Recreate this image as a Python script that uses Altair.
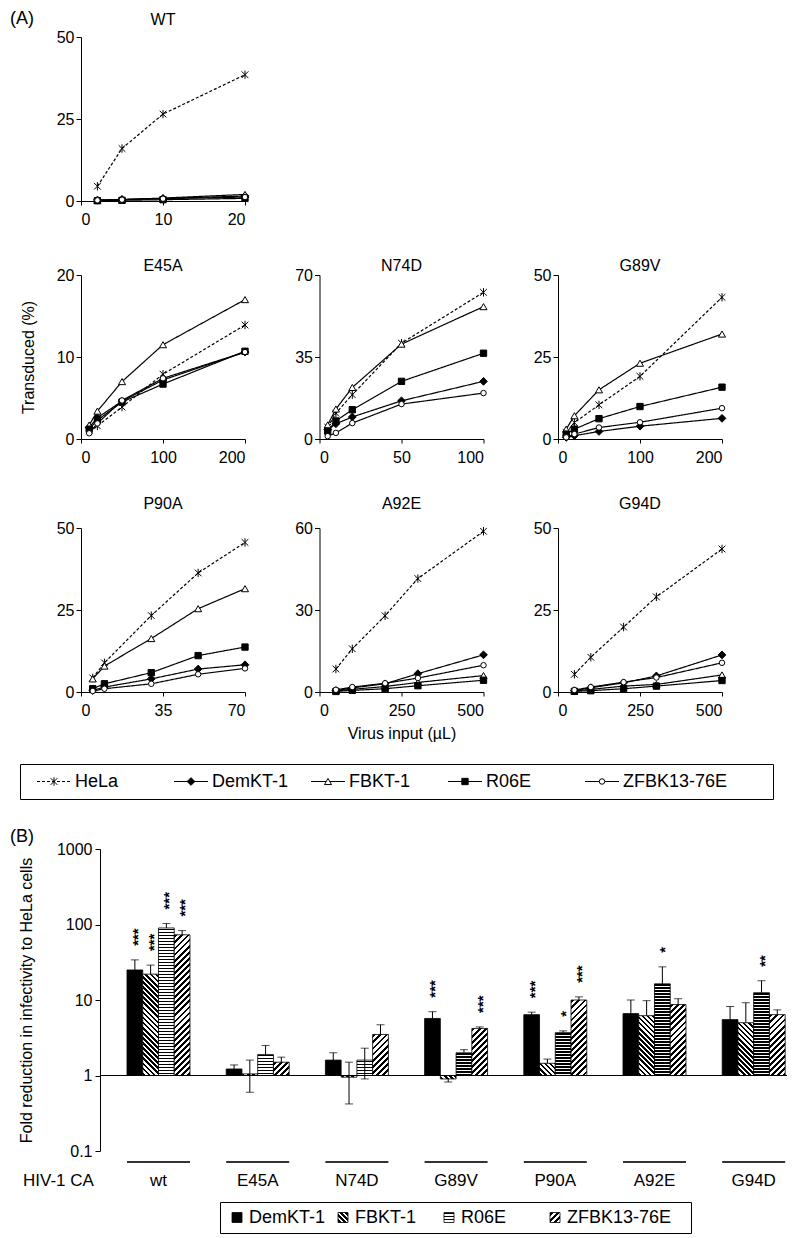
import math
import altair as alt
import pandas as pd

FONT = "Liberation Sans"

# ---------------- Panel A data ----------------
series = ["HeLa", "DemKT-1", "FBKT-1", "R06E", "ZFBK13-76E"]

WT = {"x": [2, 5, 10, 20],
      "HeLa": [4.5, 16.0, 26.5, 38.5], "DemKT-1": [0.3, 0.5, 0.8, 1.5],
      "FBKT-1": [0.2, 0.4, 0.9, 2.0], "R06E": [0.1, 0.2, 0.4, 0.8],
      "ZFBK13-76E": [0.2, 0.4, 0.7, 1.2]}
E45A = {"x": [10, 20, 50, 100, 200],
        "HeLa": [1.0, 1.6, 3.9, 7.9, 13.9], "DemKT-1": [1.4, 2.6, 4.6, 7.2, 10.6],
        "FBKT-1": [1.7, 3.4, 7.0, 11.5, 17.0], "R06E": [1.2, 2.3, 4.5, 6.7, 10.7],
        "ZFBK13-76E": [0.7, 1.9, 4.7, 7.4, 10.6]}
N74D = {"x": [5, 10, 20, 50, 100],
        "HeLa": [5.0, 11.0, 18.9, 40.9, 62.6], "DemKT-1": [4.0, 6.5, 9.4, 16.3, 24.6],
        "FBKT-1": [6.0, 12.8, 22.0, 40.5, 56.5], "R06E": [3.4, 7.7, 12.5, 24.6, 36.6],
        "ZFBK13-76E": [1.2, 2.6, 6.8, 14.9, 19.6]}
G89V = {"x": [10, 20, 50, 100, 200],
        "HeLa": [2.0, 5.0, 10.4, 19.1, 43.2], "DemKT-1": [0.5, 1.0, 2.3, 3.9, 6.3],
        "FBKT-1": [3.0, 7.1, 15.0, 23.1, 32.0], "R06E": [1.5, 3.0, 6.2, 9.9, 15.8],
        "ZFBK13-76E": [0.5, 1.5, 3.5, 5.1, 9.4]}
P90A = {"x": [5, 10, 30, 50, 70],
        "HeLa": [4.3, 8.9, 23.3, 36.3, 45.6], "DemKT-1": [0.5, 1.5, 4.0, 7.0, 8.3],
        "FBKT-1": [4.0, 7.9, 16.3, 25.4, 31.5], "R06E": [1.0, 2.5, 5.9, 11.1, 13.7],
        "ZFBK13-76E": [0.3, 1.0, 2.5, 5.4, 7.2]}
A92E = {"x": [50, 100, 200, 300, 500],
        "HeLa": [8.4, 15.8, 27.9, 41.5, 58.8], "DemKT-1": [0.5, 1.5, 3.0, 6.7, 13.6],
        "FBKT-1": [0.4, 1.0, 2.0, 3.5, 6.0], "R06E": [0.2, 0.6, 1.2, 2.3, 4.3],
        "ZFBK13-76E": [0.8, 1.8, 3.2, 5.1, 9.8]}
G94D = {"x": [50, 100, 200, 300, 500],
        "HeLa": [5.4, 10.6, 19.8, 29.0, 43.6], "DemKT-1": [0.4, 1.3, 2.8, 4.9, 11.3],
        "FBKT-1": [0.3, 0.8, 1.8, 2.3, 5.2], "R06E": [0.2, 0.4, 1.0, 1.8, 3.5],
        "ZFBK13-76E": [0.6, 1.5, 3.0, 4.4, 8.9]}

# ---------------- Panel B data ----------------
cats = ["wt", "E45A", "N74D", "G89V", "P90A", "A92E", "G94D"]
bar_series = ["DemKT-1", "FBKT-1", "R06E", "ZFBK13-76E"]
fold_demkt = [25, 1.22, 1.6, 5.7, 6.4, 6.6, 5.5]
fold_fbkt = [22, 1.05, 0.95, 0.9, 1.45, 6.2, 5.0]
fold_r06e = [90, 1.9, 1.6, 2.0, 3.7, 16.4, 12.5]
fold_zfbk = [73, 1.5, 3.5, 4.2, 10.0, 8.7, 6.4]
hi_demkt = [34, 1.38, 2.0, 7.0, 6.9, 10.0, 8.2]
hi_fbkt = [29, 1.6, 1.5, 0.9, 1.65, 9.8, 9.2]
hi_r06e = [103, 2.5, 2.3, 2.2, 3.9, 27.5, 18.0]
hi_zfbk = [83, 1.75, 4.7, 4.4, 11.0, 10.4, 7.4]
lo_demkt = [25, 1.22, 1.6, 5.7, 6.4, 6.6, 5.5]
lo_fbkt = [22, 0.6, 0.42, 0.82, 1.45, 6.2, 5.0]
lo_r06e = [90, 1.9, 0.9, 2.0, 3.7, 16.4, 12.5]
lo_zfbk = [73, 1.5, 3.5, 4.2, 10.0, 8.7, 6.4]
star_demkt = ["***", "", "", "***", "***", "", ""]
star_fbkt = ["***", "", "", "", "", "", ""]
star_r06e = ["***", "", "", "", "*", "*", "**"]
star_zfbk = ["***", "", "", "***", "***", "", ""]

# ---------------- styles ----------------
STAR = "M-0.8,-0.8L0.8,0.8M-0.8,0.8L0.8,-0.8M0,-1L0,1"
pt_shapes = [STAR, "diamond", "triangle-up", "square", "circle"]
pt_fills = ["transparent", "black", "white", "black", "white"]
pt_sizes = [70, 30, 60, 30, 45]
leg_sizes = [55, 25, 50, 28, 40]
dashes = [[3, 2], [1, 0], [1, 0], [1, 0], [1, 0]]
LBL = "'' + datum.value"

PW, PH = 164, 164
one = pd.DataFrame({"k": [0]})


def label(text, x, y, size=18, align="left"):
    return alt.Chart(one).mark_text(text=text, align=align, baseline="middle",
                                    fontSize=size, font=FONT, color="black").encode(
        x=alt.value(x), y=alt.value(y))


def spacer(w):
    return alt.Chart(one).mark_point(size=0, opacity=0).encode(
        x=alt.value(0), y=alt.value(0)).properties(width=w, height=1)


def axis_y(vals, title=None, **kw):
    return alt.Axis(values=vals, tickSize=5, labelPadding=2, labelFontSize=16,
                    labelExpr=LBL, grid=False, title=title, titleFontSize=16,
                    titleFontWeight="normal", **kw)


def axis_x(vals, title=None, **kw):
    return alt.Axis(values=vals, tickSize=4, labelPadding=6, labelFontSize=16,
                    labelExpr=LBL, grid=False, title=title, titleFontSize=16,
                    titleFontWeight="normal", labelAngle=0, **kw)


def line_panel(name, d, xmax, ymax, ty, ytitle=None, ytitle_kw=None,
               xtitle=None, xtitle_kw=None, extra=()):
    rows = [{"series": s, "x": xv, "y": yv}
            for s in series for xv, yv in zip(d["x"], d[s])]
    df = pd.DataFrame(rows)
    xenc = alt.X("x:Q", scale=alt.Scale(domain=[0, xmax], nice=False, zero=True),
                 axis=axis_x([0, xmax / 2, xmax], xtitle, **(xtitle_kw or {})))
    yenc = alt.Y("y:Q", scale=alt.Scale(domain=[0, ymax], nice=False, zero=True),
                 axis=axis_y([0, ymax / 2, ymax], ytitle, **(ytitle_kw or {})))
    lines = alt.Chart(df).mark_line(color="black", strokeWidth=1.2).encode(
        x=xenc, y=yenc, detail="series:N",
        strokeDash=alt.StrokeDash("series:N", scale=alt.Scale(domain=series, range=dashes),
                                  legend=None))
    pts = alt.Chart(df).mark_point(opacity=1, stroke="black", strokeWidth=1).encode(
        x=xenc, y=yenc,
        shape=alt.Shape("series:N", scale=alt.Scale(domain=series, range=pt_shapes), legend=None),
        fill=alt.Fill("series:N", scale=alt.Scale(domain=series, range=pt_fills), legend=None),
        size=alt.Size("series:N", scale=alt.Scale(domain=series, range=pt_sizes), legend=None))
    title = label(name, PW / 2, ty, size=16, align="center")
    return alt.layer(lines, pts, title, *extra).properties(width=PW, height=PH)


wt = line_panel("WT", WT, 20, 50, -17, extra=[label("(A)", -71, -18)])
e45a = line_panel("E45A", E45A, 200, 20, -9, ytitle="Transduced (%)",
                  ytitle_kw={"titlePadding": 20})
n74d = line_panel("N74D", N74D, 100, 70, -9)
g89v = line_panel("G89V", G89V, 200, 50, -9)
p90a = line_panel("P90A", P90A, 70, 50, -24)
a92e = line_panel("A92E", A92E, 500, 60, -24, xtitle="Virus input (µL)",
                  xtitle_kw={"titlePadding": 7})
g94d = line_panel("G94D", G94D, 500, 50, -24)

rowWT = alt.hconcat(spacer(61), wt, spacing=0, bounds="flush")
row2 = alt.hconcat(spacer(61), alt.hconcat(e45a, n74d, g89v, spacing=74.5, bounds="flush"),
                   spacing=0, bounds="flush")
row3 = alt.hconcat(spacer(61), alt.hconcat(p90a, a92e, g94d, spacing=74.5, bounds="flush"),
                   spacing=0, bounds="flush")

# ---------------- Legend A ----------------
dfLA = pd.DataFrame({"series": series})
xLA = alt.X("series:N", sort=series,
            scale=alt.Scale(type="point", domain=series, range=[34, 582], padding=0), axis=None)
la_line = alt.Chart(dfLA).mark_rule(color="black", strokeWidth=1, xOffset=-17, x2Offset=17).encode(
    x=xLA, x2=alt.X2("series:N"), y=alt.value(17.5),
    strokeDash=alt.StrokeDash("series:N", scale=alt.Scale(domain=series, range=dashes),
                              legend=None))
la_pts = alt.Chart(dfLA).mark_point(opacity=1, stroke="black", strokeWidth=1).encode(
    x=xLA, y=alt.value(17.5),
    shape=alt.Shape("series:N", scale=alt.Scale(domain=series, range=pt_shapes), legend=None),
    fill=alt.Fill("series:N", scale=alt.Scale(domain=series, range=pt_fills), legend=None),
    size=alt.Size("series:N", scale=alt.Scale(domain=series, range=leg_sizes), legend=None))
la_txt = alt.Chart(dfLA).mark_text(align="left", baseline="middle", dx=21, fontSize=18,
                                   font=FONT, color="black").encode(
    x=xLA, y=alt.value(17.5), text="series:N")
legendA = alt.layer(la_line, la_pts, la_txt).properties(
    width=753, height=35, view=alt.ViewBackground(stroke="black", strokeWidth=1))

# ---------------- Panel B ----------------
W, H = 706, 302
DPX = H / 4.0
BW = 63.0 / 4.0


def hatch(kind, w, h, period, thick):
    w = max(w, 0.5)
    h = max(h, 0.5)
    if kind == "h":
        x1, y1, x2, y2 = 0, 0, 0, 1
        L = h
    else:
        s = (w + h) / (w * w + h * h)
        if kind == "/":
            x1, y1, x2, y2 = 0, 0, s * w, s * h
        else:
            x1, y1, x2, y2 = 0, 1, s * w, 1 - s * h
        L = (w + h) / math.sqrt(2)
    stops = [{"offset": 0, "color": "white"}]
    k = 0
    while True:
        a = (0.6 + k * period) / L
        if a >= 1:
            break
        b = min((0.6 + k * period + thick) / L, 1.0)
        stops += [{"offset": round(a, 4), "color": "white"},
                  {"offset": round(a, 4), "color": "black"},
                  {"offset": round(b, 4), "color": "black"},
                  {"offset": round(b, 4), "color": "white"}]
        k += 1
    return {"gradient": "linear", "x1": round(x1, 4), "y1": round(y1, 4),
            "x2": round(x2, 4), "y2": round(y2, 4), "stops": stops}


patterns = {"FBKT-1": ("\\", 3.6, 1.9), "R06E": ("h", 3.0, 1.4), "ZFBK13-76E": ("/", 4.3, 2.0)}

folds = {"DemKT-1": fold_demkt, "FBKT-1": fold_fbkt, "R06E": fold_r06e, "ZFBK13-76E": fold_zfbk}
his = {"DemKT-1": hi_demkt, "FBKT-1": hi_fbkt, "R06E": hi_r06e, "ZFBK13-76E": hi_zfbk}
los = {"DemKT-1": lo_demkt, "FBKT-1": lo_fbkt, "R06E": lo_r06e, "ZFBK13-76E": lo_zfbk}
stars = {"DemKT-1": star_demkt, "FBKT-1": star_fbkt, "R06E": star_r06e, "ZFBK13-76E": star_zfbk}

rowsB = []
for s in bar_series:
    for i, c in enumerate(cats):
        rowsB.append({"cat": c, "series": s, "fold": folds[s][i], "lo": los[s][i],
                      "hi": his[s][i], "star": stars[s][i]})
dfB = pd.DataFrame(rowsB)

conds = []
for s, (kind, per, th) in patterns.items():
    for i, c in enumerate(cats):
        h = abs(math.log10(folds[s][i])) * DPX
        conds.append({"test": f"datum.cat === '{c}' && datum.series === '{s}'",
                      "value": hatch(kind, BW, h, per, th)})
fill_bars = alt.FillValue(value="black", condition=conds)

xB = alt.X("cat:N", sort=cats,
           scale=alt.Scale(domain=cats, paddingInner=0.365, paddingOuter=0.241, align=0.962),
           axis=alt.Axis(title=None, domain=False, ticks=False, tickSize=0, labelPadding=21,
                         labelFontSize=17, labelAngle=0, grid=False))
xoB = alt.XOffset("series:N", sort=bar_series,
                  scale=alt.Scale(domain=bar_series, paddingInner=0, paddingOuter=0))
yscaleB = alt.Scale(type="log", domain=[0.1, 1000], nice=False)
axB = alt.Axis(values=[0.1, 1, 10, 100, 1000], labelExpr=LBL, offset=-19, tickSize=5,
               labelPadding=3, labelFontSize=16, grid=False,
               title="Fold reduction in infectivity to HeLa cells",
               titleFontSize=16, titlePadding=22, titleFontWeight="normal")

bars = alt.Chart(dfB).mark_bar(stroke="black", strokeWidth=0.8).encode(
    x=xB, xOffset=xoB, y=alt.Y("fold:Q", scale=yscaleB, axis=axB), y2=alt.datum(1),
    fill=fill_bars)
base_rule = alt.Chart(one).mark_rule(color="black", strokeWidth=1.2).encode(
    y=alt.datum(1), x=alt.value(19), x2=alt.value(W))
err = alt.Chart(dfB).mark_rule(color="black", strokeWidth=1).encode(
    x=xB, xOffset=xoB, y=alt.Y("lo:Q", scale=yscaleB, axis=axB), y2="hi:Q")
cap_hi = alt.Chart(dfB).transform_filter("datum.hi > datum.fold * 1.001").mark_tick(
    color="black", thickness=1, size=8, orient="horizontal").encode(
    x=xB, xOffset=xoB, y=alt.Y("hi:Q", scale=yscaleB, axis=axB))
cap_lo = alt.Chart(dfB).transform_filter("datum.lo < datum.fold / 1.001").mark_tick(
    color="black", thickness=1, size=8, orient="horizontal").encode(
    x=xB, xOffset=xoB, y=alt.Y("lo:Q", scale=yscaleB, axis=axB))
star_txt = alt.Chart(dfB).transform_filter("datum.star != ''").mark_text(
    angle=270, align="left", baseline="middle", dx=14, dy=3, fontSize=15, fontWeight="bold",
    font=FONT, color="black", fill="black").encode(
    x=xB, xOffset=xoB, y=alt.Y("hi:Q", scale=yscaleB, axis=axB), text="star:N")
under = alt.Chart(pd.DataFrame({"cat": cats})).mark_bar(color="#333333").encode(
    x=xB, y=alt.value(H + 10), y2=alt.value(H + 12))

panelB = alt.layer(bars, base_rule, err, cap_hi, cap_lo, star_txt, under,
                   label("(B)", -71, -12), label("HIV-1 CA", -58, H + 30, size=17)).properties(
    width=W, height=H)
rowB = alt.hconcat(spacer(61), panelB, spacing=0, bounds="flush")

# ---------------- Legend B ----------------
leg_conds = []
for s, (kind, per, th) in patterns.items():
    leg_conds.append({"test": f"datum.series === '{s}'", "value": hatch(kind, 10, 10, per, th)})
dfLB = pd.DataFrame({"series": bar_series})
xLB = alt.X("series:N", sort=bar_series,
            scale=alt.Scale(type="point", domain=bar_series, range=[17, 335], padding=0),
            axis=None)
lb_sq = alt.Chart(dfLB).mark_square(size=100, stroke="black", strokeWidth=0.8, opacity=1).encode(
    x=xLB, y=alt.value(15.5), fill=alt.FillValue(value="black", condition=leg_conds))
lb_tx = alt.Chart(dfLB).mark_text(align="left", baseline="middle", dx=12, fontSize=18,
                                  font=FONT, color="black").encode(
    x=xLB, y=alt.value(15.5), text="series:N")
legendB = alt.layer(lb_sq, lb_tx).properties(
    width=471, height=31, view=alt.ViewBackground(stroke="black", strokeWidth=1))
rowLB = alt.hconcat(spacer(200), legendB, spacing=0, bounds="flush")

chart = alt.vconcat(
    alt.vconcat(
        alt.vconcat(
            alt.vconcat(
                alt.vconcat(rowWT, row2, spacing=31),
                row3, spacing=31),
            legendA, spacing=22),
        rowB, spacing=28),
    rowLB, spacing=12
).properties(padding={"left": 2, "top": 2, "right": 0, "bottom": 0}).configure(
    font=FONT).configure_axis(
    labelFont=FONT, titleFont=FONT, labelColor="black", titleColor="black",
    domainColor="black", tickColor="black", grid=False
).configure_view(stroke=None)

chart.save("out.html", embed_options={"renderer": "svg", "actions": False})
